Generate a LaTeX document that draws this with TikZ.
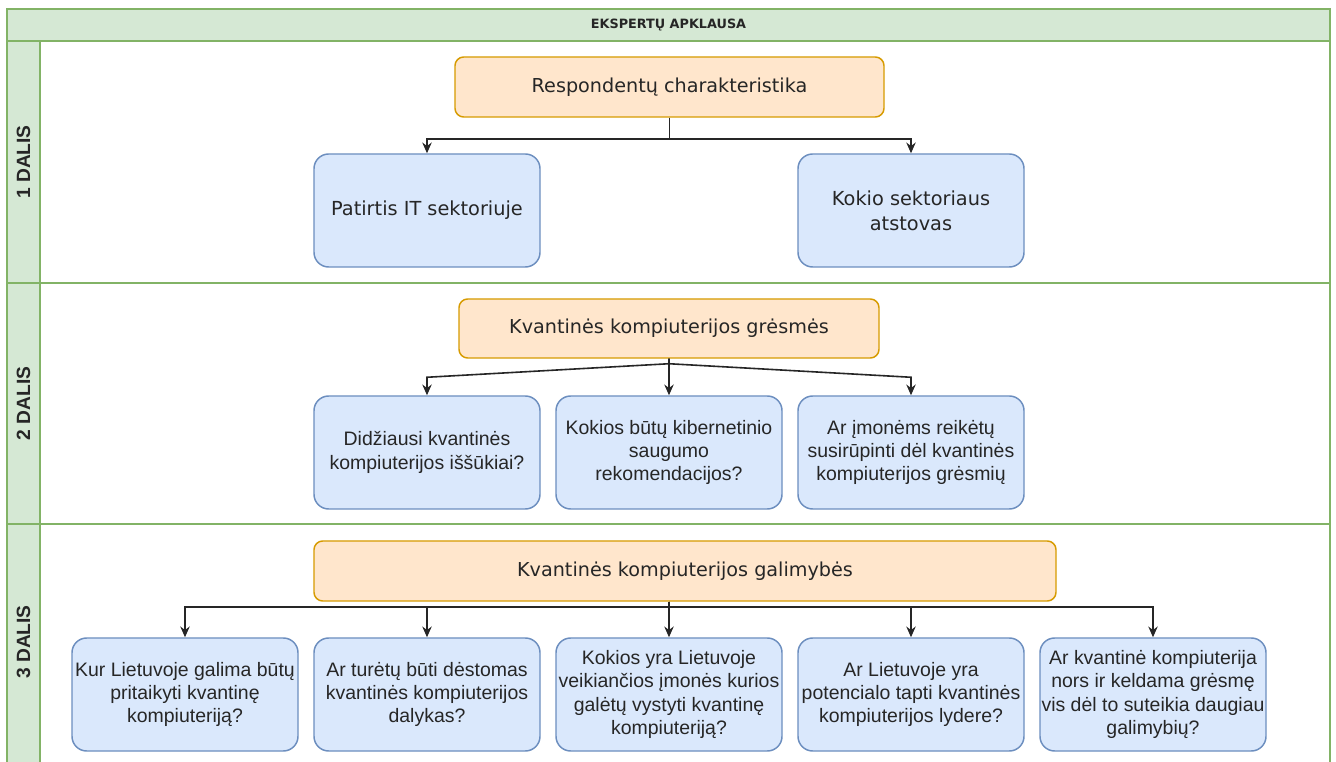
\documentclass[tikz,border=0pt]{standalone}
\usepackage{fontspec}
\setmainfont{Liberation Sans}
\newfontfamily\humanist{DejaVu Sans}
\usetikzlibrary{arrows.meta,calc}

\definecolor{laneFill}{HTML}{D5E8D4}
\definecolor{laneLine}{HTML}{82B366}
\definecolor{headFill}{HTML}{FFE6CC}
\definecolor{headLine}{HTML}{D79B00}
\definecolor{qFill}{HTML}{DAE8FC}
\definecolor{qLine}{HTML}{6C8EBF}
\definecolor{ink}{HTML}{262626}

\tikzset{
  band/.style={draw=laneLine, fill=laneFill, line width=1.5pt},
  frame/.style={draw=laneLine, line width=1.5pt},
  topic/.style={draw=headLine, fill=headFill, line width=1.1pt, rounded corners=6.5pt,
    inner sep=0pt, text=ink, font=\humanist\fontsize{14.4}{17.6}\selectfont},
  question/.style={draw=qLine, fill=qFill, line width=1.1pt, rounded corners=11pt,
    minimum width=169.5pt, minimum height=84.75pt, inner sep=0pt, align=center,
    text=ink, font=\fontsize{14.6}{17.6}\selectfont},
  questionH/.style={question, font=\humanist\fontsize{14.5}{18.6}\selectfont},
  conn/.style={draw=ink, line width=1.2pt, -{Stealth[length=8pt,width=7pt]}},
  lanelabel/.style={rotate=90, text=ink, font=\bfseries\fontsize{14.4}{16}\selectfont},
  titletext/.style={text=ink, font=\humanist\bfseries\fontsize{9.6}{11}\selectfont},
}

\begin{document}
\begin{tikzpicture}[x=0.75pt, y=-0.75pt]
  \useasboundingbox (0,0) rectangle (1336,762);

  % pool frame, title band and lane header columns
  \fill[white] (7,9) rectangle (1330,765);
  \draw[band] (7,9) rectangle (1330,41);
  \draw[band] (7,41) rectangle (40,283);
  \draw[band] (7,283) rectangle (40,524);
  \draw[band] (7,524) rectangle (40,765);
  \draw[frame] (40,283) -- (1330,283);
  \draw[frame] (40,524) -- (1330,524);
  \draw[frame] (7,9) rectangle (1330,765);

  \node[titletext] (title) at (668.5,25) {EKSPERTŲ APKLAUSA};
  \node[lanelabel] (lab1) at (23.5,162) {1 DALIS};
  \node[lanelabel] (lab2) at (23.5,403.5) {2 DALIS};
  \node[lanelabel] (lab3) at (23.5,642) {3 DALIS};

  % part 1
  \node[topic, minimum width=321.75pt, minimum height=45pt] (r1) at (669.5,87) {Respondentų charakteristika};
  \node[questionH] (p1) at (427,210.5) {Patirtis IT sektoriuje};
  \node[questionH] (p2) at (911,210.5) {Kokio sektoriaus\\atstovas};
  \draw[conn] (r1.south) -- ++(0,21) -| (p1.north);
  \draw[conn] (r1.south) -- ++(0,21) -| (p2.north);

  % part 2
  \node[topic, minimum width=315pt, minimum height=44.25pt] (r2) at (669,328.5) {Kvantinės kompiuterijos grėsmės};
  \node[question] (q1) at (427,452.5) {Didžiausi kvantinės\\kompiuterijos iššūkiai?};
  \node[question] (q2) at (669,452.5) {Kokios būtų kibernetinio\\saugumo\\rekomendacijos?};
  \node[question] (q3) at (911,452.5) {Ar įmonėms reikėtų\\susirūpinti dėl kvantinės\\kompiuterijos grėsmių};
  \coordinate (fork2) at ($(r2.south)+(0,5)$);
  \draw[conn] (r2.south) -- (fork2) -- ($(q1.north)+(0,-18)$) -- (q1.north);
  \draw[conn] (r2.south) -- (q2.north);
  \draw[conn] (r2.south) -- (fork2) -- ($(q3.north)+(0,-18)$) -- (q3.north);

  % part 3
  \node[topic, minimum width=556.5pt, minimum height=45pt] (r3) at (685,571) {Kvantinės kompiuterijos galimybės};
  \node[question] (b1) at (185,694.5) {Kur Lietuvoje galima būtų\\pritaikyti kvantinę\\kompiuteriją?};
  \node[question] (b2) at (427,694.5) {Ar turėtų būti dėstomas\\kvantinės kompiuterijos\\dalykas?};
  \node[question] (b3) at (669,694.5) {Kokios yra Lietuvoje\\veikiančios įmonės kurios\\galėtų vystyti kvantinę\\kompiuteriją?};
  \node[question] (b4) at (911,694.5) {Ar Lietuvoje yra\\potencialo tapti kvantinės\\kompiuterijos lydere?};
  \node[question] (b5) at (1153,694.5) {Ar kvantinė kompiuterija\\nors ir keldama grėsmę\\vis dėl to suteikia daugiau\\galimybių?};
  \coordinate (src3) at (r3.south -| b3.north);
  \draw[conn] (src3) -- (b3.north);
  \draw[conn] (src3) -- ++(0,5) -| (b1.north);
  \draw[conn] (src3) -- ++(0,5) -| (b2.north);
  \draw[conn] (src3) -- ++(0,5) -| (b4.north);
  \draw[conn] (src3) -- ++(0,5) -| (b5.north);
\end{tikzpicture}
\end{document}
